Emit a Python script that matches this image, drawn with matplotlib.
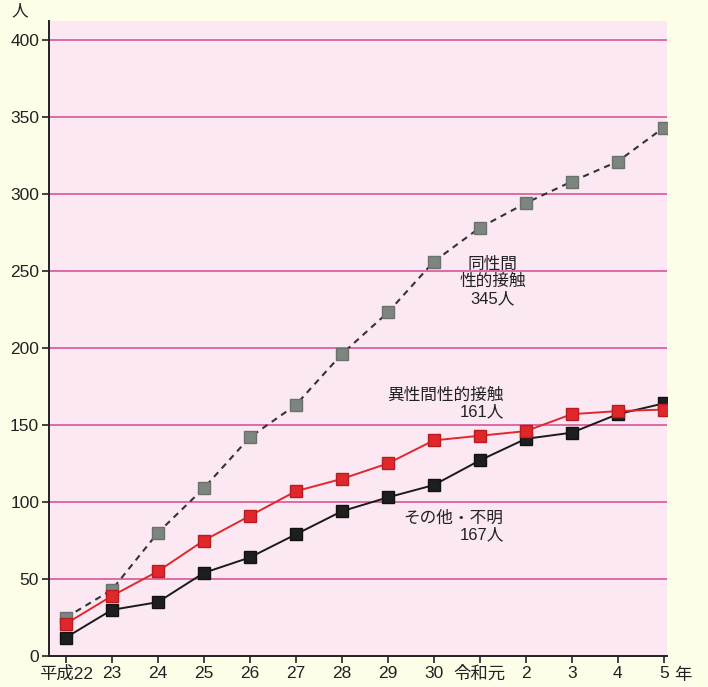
import numpy as np
import matplotlib.pyplot as plt

plt.rcParams['font.family'] = ['Liberation Sans', 'Noto Sans CJK JP', 'DejaVu Sans']

years = ['平成22', '23', '24', '25', '26', '27', '28', '29', '30',
         '令和元', '2', '3', '4', '5']
same_sex = [25, 43, 80, 109, 142, 163, 196, 223, 256, 278, 294, 308, 321, 343]
hetero = [21, 39, 55, 75, 91, 107, 115, 125, 140, 143, 146, 157, 159, 160]
other = [12, 30, 35, 54, 64, 79, 94, 103, 111, 127, 141, 145, 157, 164]

yticks = [0, 50, 100, 150, 200, 250, 300, 350, 400]

cream = '#fdfde8'
pink_bg = '#fbe8f2'
grid_col = '#d8639e'

fig = plt.figure(figsize=(7.08, 6.87), dpi=100, facecolor=cream)
ax = fig.add_axes([0.069, 0.045, 0.873, 0.924])
ax.set_facecolor(pink_bg)

x = np.arange(len(years))

for v in yticks[1:]:
    ax.axhline(v, color=grid_col, lw=1.3, zorder=1)

ax.plot(x, same_sex, color='#333333', lw=1.5, ls=(0, (3, 2.5)), zorder=2)
ax.plot(x, same_sex, ls='none', marker='s', ms=8, color='#7d8580',
        mec='#6a716c', zorder=3)
ax.plot(x, other, color='#1a1a1a', lw=1.4, marker='s', ms=8,
        mfc='#1e1e1e', mec='#111111', zorder=4)
ax.plot(x, hetero, color='#e0282c', lw=1.4, marker='s', ms=8,
        mfc='#e0282c', mec='#b81c20', zorder=5)

ax.set_xlim(-0.37, 13.07)
ax.set_ylim(0, 412)
ax.set_yticks(yticks)
ax.set_xticks(x)
ax.set_xticklabels(years)
ax.tick_params(axis='both', labelsize=12.5, colors='#222222', length=5,
               width=1.2, pad=2, direction='out')

for s in ['top', 'right']:
    ax.spines[s].set_visible(False)
for s in ['left', 'bottom']:
    ax.spines[s].set_color('#222222')
    ax.spines[s].set_linewidth(1.4)

fig.text(0.028, 0.984, '人', fontsize=12, ha='center', va='center', color='#222222')
fig.text(0.965, 0.017, '年', fontsize=12.5, ha='center', va='center', color='#222222')

ax.text(9.28, 243, '同性間\n性的接触\n345人', fontsize=12, ha='center',
        va='center', linespacing=1.15, color='#222222')
ax.text(9.52, 164, '異性間性的接触\n161人', fontsize=12, ha='right',
        va='center', linespacing=1.15, color='#222222', multialignment='right')
ax.text(9.52, 84, 'その他・不明\n167人', fontsize=12, ha='right',
        va='center', linespacing=1.15, color='#222222', multialignment='right')

fig.savefig('out.png', dpi=100, facecolor=cream)
